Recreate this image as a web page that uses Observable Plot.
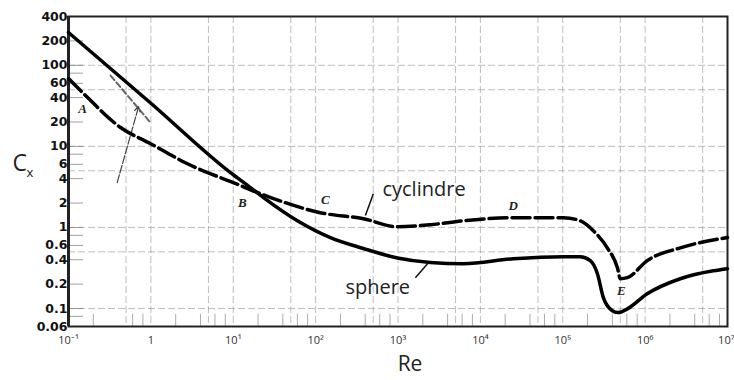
<!DOCTYPE html>
<html>
<head>
<meta charset="utf-8">
<script src="https://cdn.jsdelivr.net/npm/d3@7"></script>
<script src="https://cdn.jsdelivr.net/npm/@observablehq/plot@0.6"></script>
<style>
  html, body { margin: 0; padding: 0; background: #fff; }
  svg { display: block; }
</style>
</head>
<body>
<div id="chart"></div>
<script>
// Sphere drag curve (solid)
const sphereRe = [0.1, 1, 9.25, 16.2, 23.3, 60, 151, 380, 984, 2470, 6220, 25100, 1.02e5, 1.62e5, 2.16e5, 2.63e5, 3.11e5, 4.0e5, 4.73e5, 6.08e5, 1.06e6, 2.67e6, 6.73e6, 1e7];
const sphereCx = [254, 34, 4.74, 3.1, 2.33, 1.21, 0.75, 0.55, 0.42, 0.37, 0.357, 0.41, 0.435, 0.435, 0.39, 0.27, 0.136, 0.094, 0.089, 0.099, 0.152, 0.233, 0.292, 0.31];
// Cylinder drag curve (dashed)
const cylRe = [0.1, 0.161, 0.428, 0.99, 2.78, 10, 30.8, 114, 380, 984, 2470, 6220, 25100, 1.02e5, 1.62e5, 2.35e5, 3.47e5, 4.6e5, 5.0e5, 6.08e5, 1.06e6, 2.67e6, 1e7];
const cylCx = [68.7, 42.4, 17.1, 10.8, 6.1, 3.57, 2.27, 1.52, 1.28, 1.02, 1.08, 1.21, 1.32, 1.32, 1.21, 0.91, 0.56, 0.32, 0.233, 0.24, 0.39, 0.56, 0.75];

// Axis ticks
const xTicks = [0.1, 1, 10, 100, 1e3, 1e4, 1e5, 1e6];
const xTickLabels = ["10⁻¹", "1", "10¹", "10²", "10³", "10⁴", "10⁵", "10⁶"];
const xLastTick = [1e7];
const xLastTickLabel = ["10⁷"];
const yTicks = [400, 200, 100, 60, 40, 20, 10, 6, 4, 2, 1, 0.6, 0.4, 0.2, 0.1, 0.06];
const yTickLabels = ["400", "200", "100", "60", "40", "20", "10", "6", "4", "2", "1", "0.6", "0.4", "0.2", "0.1", "0.06"];
const yTickMarks = [200, 100, 80, 60, 40, 20, 10, 8, 6, 4, 2, 1, 0.8, 0.6, 0.4, 0.2, 0.1, 0.08];
const xGrid = [0.5, 1, 5, 10, 50, 100, 500, 1e3, 5e3, 1e4, 5e4, 1e5, 5e5, 1e6, 5e6];
const yGrid = [0.1, 0.5, 1, 5, 10, 50, 100];
const xMinor = [0.2, 0.6, 0.8, 2, 4, 6, 8, 20, 40, 60, 80, 200, 400, 600, 800, 2e3, 4e3, 6e3, 8e3, 2e4, 4e4, 6e4, 8e4, 2e5, 4e5, 6e5, 8e5, 2e6, 4e6, 6e6, 8e6];

// Annotations
const pointLetters = ["A", "B", "C", "D", "E"];
const pointRe = [0.148, 12.9, 131, 25100, 5.14e5];
const pointCx = [29.2, 2.02, 2.2, 1.86, 0.166];
const curveNames = ["cyclindre", "sphere"];
const curveNameRe = [647, 230];
const curveNameCx = [2.95, 0.182];
const leaderRe1 = [502, 1625];
const leaderCx1 = [2.61, 0.24];
const leaderRe2 = [402, 2340];
const leaderCx2 = [1.40, 0.367];
const tangentRe = [0.324, 0.99];
const tangentCx = [74.8, 19.6];
const arrowRe = [0.39, 0.71];
const arrowCx = [3.57, 31];

const sphere = sphereRe.map((r, i) => ({Re: r, Cx: sphereCx[i]}));
const cyl = cylRe.map((r, i) => ({Re: r, Cx: cylCx[i]}));
const points = pointLetters.map((t, i) => ({t, Re: pointRe[i], Cx: pointCx[i]}));
const names = curveNames.map((t, i) => ({t, Re: curveNameRe[i], Cx: curveNameCx[i]}));
const leaders = leaderRe1.map((r, i) => ({x1: r, y1: leaderCx1[i], x2: leaderRe2[i], y2: leaderCx2[i]}));
const tangent = tangentRe.map((r, i) => ({Re: r, Cx: tangentCx[i]}));
const arrows = [{x1: arrowRe[0], y1: arrowCx[0], x2: arrowRe[1], y2: arrowCx[1]}];
const xLabelData = xTicks.map((v, i) => ({v, t: xTickLabels[i]}));
const xLastData = xLastTick.map((v, i) => ({v, t: xLastTickLabel[i]}));
const yLabelData = yTicks.map((v, i) => ({v, t: yTickLabels[i]}));

const chart = Plot.plot({
  width: 734,
  height: 380,
  marginLeft: 68,
  marginRight: 7,
  marginTop: 16,
  marginBottom: 54,
  style: {background: "#fff"},
  x: {type: "log", domain: [0.1, 1e7], axis: null},
  y: {type: "log", domain: [0.06, 400], axis: null},
  marks: [
    Plot.ruleX(xGrid, {stroke: "#888", strokeOpacity: 0.55, strokeWidth: 1, strokeDasharray: "7,3"}),
    Plot.ruleY(yGrid, {stroke: "#888", strokeOpacity: 0.55, strokeWidth: 1, strokeDasharray: "7,3"}),
    Plot.ruleX(xMinor, {y1: 0.06, y2: 0.085, stroke: "#777", strokeOpacity: 0.6, strokeWidth: 1}),
    Plot.ruleY(yTickMarks, {x1: 0.1, x2: 0.152, stroke: "#777", strokeOpacity: 0.7, strokeWidth: 1}),
    Plot.frame({stroke: "#222", strokeWidth: 2}),
    Plot.ruleX([0.1], {stroke: "#222", strokeWidth: 3}),
    Plot.text(xLabelData, {x: "v", text: "t", frameAnchor: "bottom", dy: 17, fontSize: 11, fontFamily: "Open Sans, sans-serif", fill: "#333"}),
    Plot.text(xLastData, {x: "v", text: "t", frameAnchor: "bottom", dy: 17, dx: 7, textAnchor: "end", fontSize: 11, fontFamily: "Open Sans, sans-serif", fill: "#333"}),
    Plot.text(yLabelData, {y: "v", text: "t", frameAnchor: "left", textAnchor: "end", dx: -1, fontSize: 12.5, fontWeight: "bold", fontFamily: "DejaVu Sans, sans-serif", fill: "#111"}),
    Plot.line(tangent, {x: "Re", y: "Cx", stroke: "#666", strokeWidth: 2, strokeDasharray: "6,3"}),
    Plot.arrow(arrows, {x1: "x1", y1: "y1", x2: "x2", y2: "y2", stroke: "#444", strokeWidth: 1.2, headLength: 7, strokeDasharray: "8,2"}),
    Plot.line(sphere, {x: "Re", y: "Cx", stroke: "#000", strokeWidth: 3.5, curve: "monotone-x"}),
    Plot.line(cyl, {x: "Re", y: "Cx", stroke: "#000", strokeWidth: 3.5, curve: "monotone-x", strokeDasharray: "18,5"}),
    Plot.link(leaders, {x1: "x1", y1: "y1", x2: "x2", y2: "y2", stroke: "#111", strokeWidth: 1.5}),
    Plot.text(points, {x: "Re", y: "Cx", text: "t", fontSize: 13, fontWeight: "bold", fontStyle: "italic", fontFamily: "Liberation Serif, serif", fill: "#222"}),
    Plot.text(names, {x: "Re", y: "Cx", text: "t", textAnchor: "start", fontSize: 20, fontFamily: "Open Sans, sans-serif", fill: "#222"}),
    Plot.text(["Re"], {frameAnchor: "bottom", dx: 12, dy: 44, fontSize: 21, fontFamily: "Open Sans, sans-serif", fill: "#222"}),
    Plot.text(["C"], {frameAnchor: "left", textAnchor: "start", dx: -56, dy: -8, fontSize: 23, fontFamily: "Open Sans, sans-serif", fill: "#222"}),
    Plot.text(["x"], {frameAnchor: "left", textAnchor: "start", dx: -42, dy: 1, fontSize: 13, fontFamily: "Open Sans, sans-serif", fill: "#222"})
  ]
});
document.getElementById("chart").appendChild(chart);
</script>
</body>
</html>
